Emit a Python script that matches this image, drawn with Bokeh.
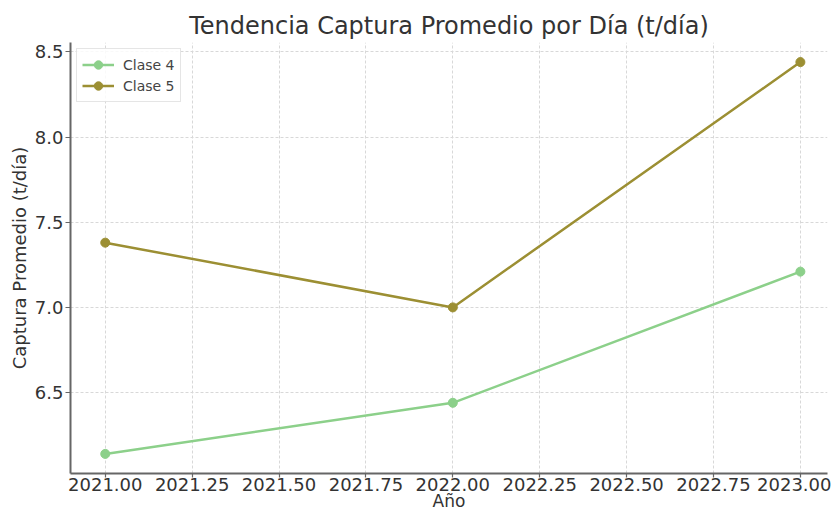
from bokeh.plotting import figure
from bokeh.models import Range1d, FixedTicker, Legend, LegendItem
from bokeh.embed import file_html
from bokeh.resources import INLINE

years = [2021, 2022, 2023]
clase4 = [6.14, 6.44, 7.21]
clase5 = [7.38, 7.00, 8.44]
x_ticks = [2021.0, 2021.25, 2021.5, 2021.75, 2022.0, 2022.25, 2022.5, 2022.75, 2023.0]
x_tick_labels = ["2021.00", "2021.25", "2021.50", "2021.75", "2022.00",
                 "2022.25", "2022.50", "2022.75", "2023.00"]
y_ticks = [6.5, 7.0, 7.5, 8.0, 8.5]
y_tick_labels = ["6.5", "7.0", "7.5", "8.0", "8.5"]

FONT = "DejaVu Sans"
c4 = "#8cd08a"
c5 = "#9c8f33"

p = figure(width=831, height=513, output_backend="svg", toolbar_location=None,
           x_range=Range1d(2020.9, 2023.078), y_range=Range1d(6.025, 8.555),
           min_border_left=70, min_border_right=4, min_border_top=42, min_border_bottom=40)

p.title.text = "Tendencia Captura Promedio por Día (t/día)"
p.title.align = "center"
p.title.text_font = FONT
p.title.text_font_size = "24px"
p.title.text_font_style = "normal"
p.title.text_color = "#333333"
p.title.standoff = 6

p.outline_line_color = None

p.xaxis.ticker = FixedTicker(ticks=x_ticks)
p.xaxis.major_label_overrides = {t: l for t, l in zip(x_ticks, x_tick_labels)}
p.yaxis.ticker = FixedTicker(ticks=y_ticks)
p.yaxis.major_label_overrides = {t: l for t, l in zip(y_ticks, y_tick_labels)}
p.xaxis.axis_label = "Año"
p.yaxis.axis_label = "Captura Promedio (t/día)"

for ax in (p.xaxis, p.yaxis):
    ax.axis_line_color = "#666666"
    ax.axis_line_width = 2
    ax.major_tick_line_color = "#666666"
    ax.major_tick_line_width = 1.2
    ax.major_tick_out = 5
    ax.major_tick_in = 0
    ax.minor_tick_line_color = None
    ax.major_label_text_font = FONT
    ax.major_label_text_font_size = "18px"
    ax.major_label_text_color = "#333333"
    ax.axis_label_text_font = FONT
    ax.axis_label_text_font_size = "17px"
    ax.axis_label_text_font_style = "normal"
    ax.axis_label_text_color = "#333333"
    ax.major_label_standoff = 2
    ax.axis_label_standoff = 2
p.yaxis.axis_label_text_font_size = "18px"
p.xaxis.major_tick_out = 4
p.xaxis.major_label_standoff = 0
p.xaxis.axis_label_standoff = -3

p.xgrid.ticker = FixedTicker(ticks=x_ticks)
p.ygrid.ticker = FixedTicker(ticks=y_ticks)
for g in (p.xgrid, p.ygrid):
    g.grid_line_color = "#d8d8d8"
    g.grid_line_dash = "3 2"
    g.grid_line_width = 1

l4 = p.line(years, clase4, line_color=c4, line_width=2.5)
s4 = p.scatter(years, clase4, size=9, fill_color=c4, line_color=c4)
l5 = p.line(years, clase5, line_color=c5, line_width=2.5)
s5 = p.scatter(years, clase5, size=9, fill_color=c5, line_color=c5)

legend = Legend(items=[LegendItem(label="Clase 4", renderers=[l4, s4]),
                       LegendItem(label="Clase 5", renderers=[l5, s5])],
                location="top_left")
legend.label_text_font = FONT
legend.label_text_font_size = "14px"
legend.label_text_color = "#444444"
legend.border_line_color = "#cccccc"
legend.border_line_width = 1
legend.background_fill_alpha = 0.85
legend.margin = 6
legend.padding = 5
legend.spacing = 0
legend.label_height = 21
legend.glyph_height = 21
legend.glyph_width = 32
legend.label_standoff = 9
p.add_layout(legend, "center")

open("out.html", "w").write(file_html(p, INLINE))
